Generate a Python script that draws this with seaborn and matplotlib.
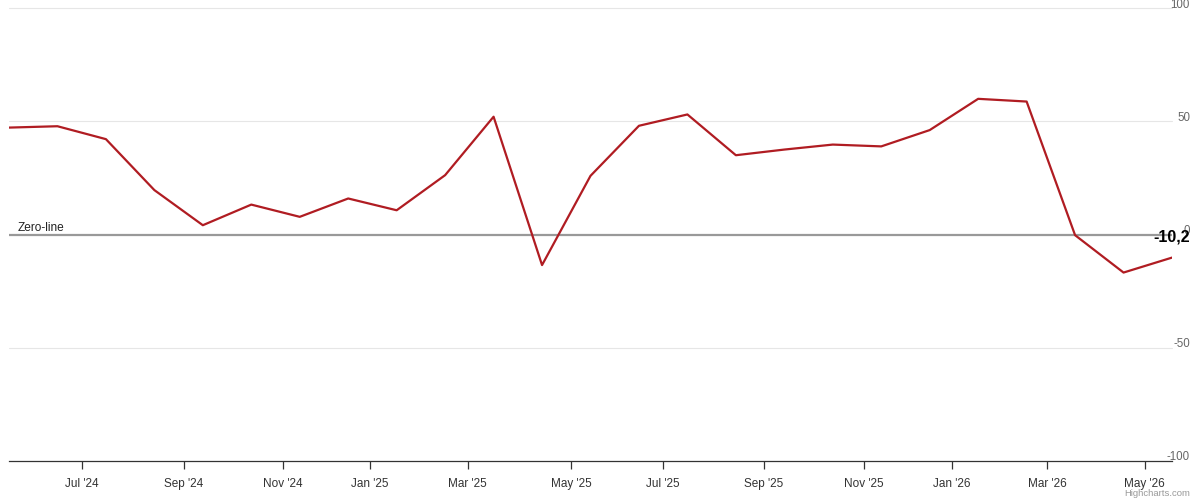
"""Monthly balance indicator with zero line (Highcharts-style recreation)."""

import matplotlib
matplotlib.use("Agg")
import matplotlib.pyplot as plt
import numpy as np
import pandas as pd
import seaborn as sns

# observation dates (points sit on an ordinal axis, evenly spaced)
dates = [
    "2024-05-16", "2024-06-16", "2024-07-16", "2024-08-13", "2024-09-13",
    "2024-10-12", "2024-11-12", "2024-12-18", "2025-01-18", "2025-02-16",
    "2025-03-16", "2025-04-13", "2025-05-13", "2025-06-16", "2025-07-16",
    "2025-08-14", "2025-09-14", "2025-10-12", "2025-11-12", "2025-12-18",
    "2026-01-18", "2026-02-17", "2026-03-17", "2026-04-18", "2026-05-18",
]
values = [
    47.2, 47.8, 42.1, 19.6, 4.1, 13.2, 7.8, 15.9, 10.7, 26.2,
    52.0, -13.5, 25.9, 48.0, 53.0, 35.0, 37.5, 39.7, 38.9, 46.1,
    59.9, 58.7, -0.3, -16.8, -10.2,
]
tick_months = [
    "2024-07-01", "2024-09-01", "2024-11-01", "2025-01-01", "2025-03-01",
    "2025-05-01", "2025-07-01", "2025-09-01", "2025-11-01", "2026-01-01",
    "2026-03-01", "2026-05-01",
]
y_ticks = [-100, -50, 0, 50, 100]
zero_label = "Zero-line"
last_label = "-10,2"

df = pd.DataFrame({"date": pd.to_datetime(dates), "value": values})
df["pos"] = np.arange(len(df))

# ordinal axis: tick dates are placed by interpolating between point dates
tick_dt = pd.to_datetime(tick_months)
tick_pos = np.interp(
    tick_dt.values.astype("int64"), df["date"].values.astype("int64"), df["pos"].values
)
tick_text = [d.strftime("%b '%y") for d in tick_dt]

sns.set_theme(style="white")
plt.rcParams["font.family"] = ["Liberation Sans", "DejaVu Sans"]

fig = plt.figure(figsize=(12, 5.02), dpi=100)
ax = fig.add_axes([9 / 1200, 40 / 502, 1163 / 1200, 453 / 502])

for v in y_ticks:
    if v not in (0, -100):
        ax.axhline(v, color="#e6e6e6", lw=0.8, zorder=0, clip_on=False)
ax.axhline(0, color="#999999", lw=1.6, zorder=1)

sns.lineplot(data=df, x="pos", y="value", color="#b01c22", lw=1.6, ax=ax, zorder=3)

ax.set_xlim(df["pos"].min(), df["pos"].max())
ax.set_ylim(-100, 100)
ax.set_xticks(tick_pos)
ax.set_xticklabels(tick_text, fontsize=8.5, color="#333333")
ax.set_yticks([])
ax.set(xlabel="", ylabel="")
ax.tick_params(axis="x", bottom=True, length=6, width=0.9, color="#333333", pad=5.5)

for side in ("top", "left", "right"):
    ax.spines[side].set_visible(False)
ax.spines["bottom"].set_color("#333333")
ax.spines["bottom"].set_linewidth(0.9)

for v in y_ticks:
    ax.annotate(
        str(v), xy=(1.0155, v), xycoords=("axes fraction", "data"),
        xytext=(0, 1.5), textcoords="offset pixels",
        ha="right", va="baseline", fontsize=8.3, color="#666666",
        annotation_clip=False,
    )

ax.annotate(
    zero_label, xy=(9 / 1163, 0), xycoords=("axes fraction", "data"),
    xytext=(0, 1.5), textcoords="offset pixels",
    ha="left", va="bottom", fontsize=8.6, color="#222222",
)
ax.annotate(
    last_label, xy=(1.0155, 0), xycoords=("axes fraction", "data"),
    xytext=(0, -1), textcoords="offset pixels",
    ha="right", va="center", fontsize=11.5, fontweight="bold", color="#000000",
    annotation_clip=False,
)

fig.text(1190 / 1200, 1 - 494 / 502, "Highcharts.com", ha="right", va="center",
         fontsize=6.8, color="#999999")

fig.savefig("out.png", dpi=100)
plt.close(fig)
